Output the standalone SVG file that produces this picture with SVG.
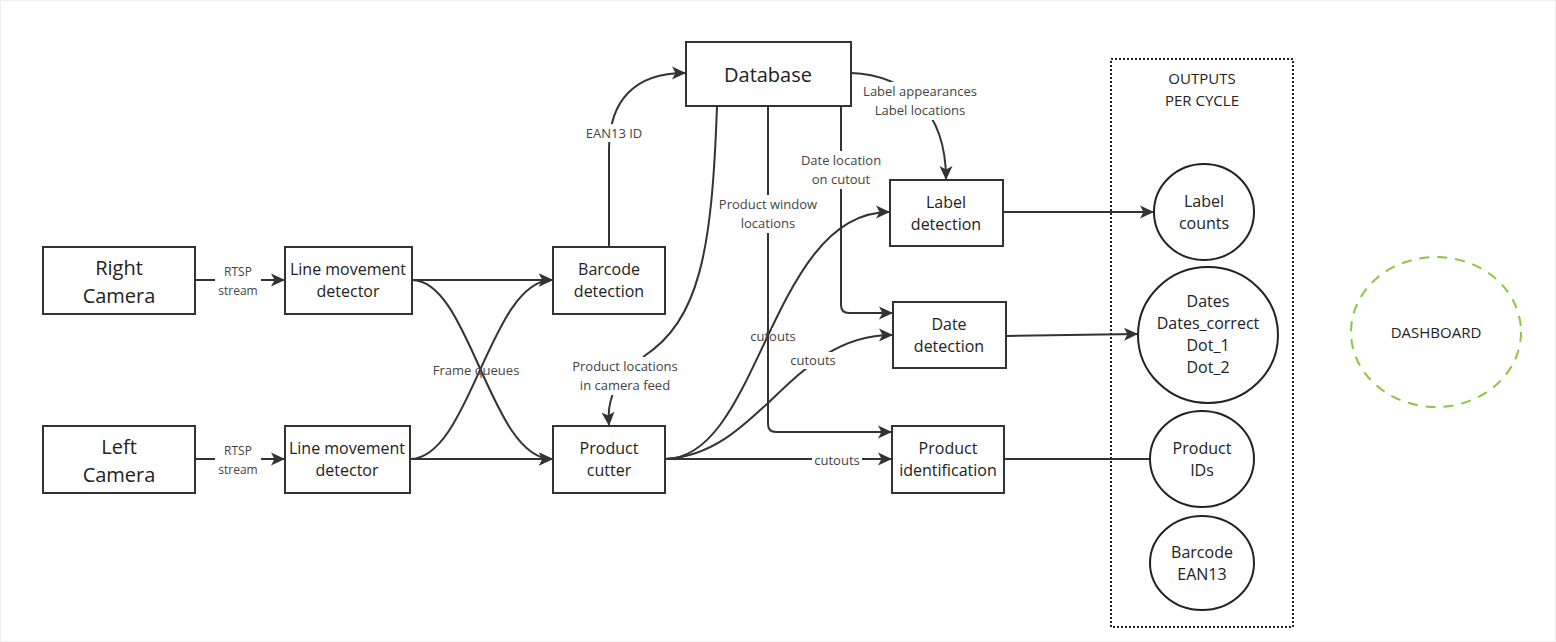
<svg xmlns="http://www.w3.org/2000/svg" width="1556" height="642" viewBox="0 0 1556 642">
<defs>
<style>
.box{fill:#fff;stroke:#333;stroke-width:2}
.circ{fill:#fff;stroke:#222;stroke-width:2}
.t{font-family:"Open Sans","Noto Sans",sans-serif;fill:#222;text-anchor:middle;dominant-baseline:central}
.n16{font-size:16px}
.n20{font-size:20px}
.e{font-family:"Open Sans","Noto Sans",sans-serif;fill:#444;text-anchor:middle;dominant-baseline:central;font-size:13px}
.e12{font-size:12px}
.ln{fill:none;stroke:#333;stroke-width:2}
.lbg{fill:#fff}
</style>
<marker id="ah" viewBox="0 0 14 14" refX="13" refY="7" markerWidth="14" markerHeight="14" markerUnits="userSpaceOnUse" orient="auto">
<path d="M0,0.5 L14,7 L0,13.5 L3.5,7 z" fill="#333"/>
</marker>
</defs>
<rect width="1556" height="642" fill="#fff"/>
<rect x="0.5" y="0.5" width="1555" height="641" fill="none" stroke="#eee" stroke-width="1"/>

<g id="connectors">
<path class="ln" d="M195,280 H284" marker-end="url(#ah)"/>
<path class="ln" d="M195,459 H284" marker-end="url(#ah)"/>
<path class="ln" d="M412,280 H552" marker-end="url(#ah)"/>
<path class="ln" d="M410,459 H552" marker-end="url(#ah)"/>
<path class="ln" d="M412,280 C470,280 490,459 552,459" marker-end="url(#ah)"/>
<path class="ln" d="M410,459 C470,459 490,280 552,280" marker-end="url(#ah)"/>
<path class="ln" d="M609,247 L609,150 C609,100 635,73 685,73" marker-end="url(#ah)"/>
<path class="ln" d="M717,106 C712,250 700,320 643,357"/>
<path class="ln" d="M613,393 C609,405 608,412 609,425" marker-end="url(#ah)"/>
<path class="ln" d="M768,106 V424 Q768,432 776,432 H891" marker-end="url(#ah)"/>
<path class="ln" d="M841,106 V305 Q841,313 849,313 H892" marker-end="url(#ah)"/>
<path class="ln" d="M851,73 C905,75 946,110 946,179" marker-end="url(#ah)"/>
<path class="ln" d="M665,459 C760,459 770,212 889,212" marker-end="url(#ah)"/>
<path class="ln" d="M665,459 C760,455 790,335 892,335" marker-end="url(#ah)"/>
<path class="ln" d="M665,459 H891" marker-end="url(#ah)"/>
<path class="ln" d="M1003,212 H1153" marker-end="url(#ah)"/>
<path class="ln" d="M1006,336 L1137,334" marker-end="url(#ah)"/>
<path class="ln" d="M1004,459 H1150"/>

<rect class="lbg" x="215" y="262" width="46" height="36"/>
<text class="e e12" x="238" y="271">RTSP</text>
<text class="e e12" x="238" y="290">stream</text>
<rect class="lbg" x="215" y="441" width="46" height="36"/>
<text class="e e12" x="238" y="450">RTSP</text>
<text class="e e12" x="238" y="469">stream</text>
<text class="e" x="476" y="370">Frame queues</text>
<rect class="lbg" x="583" y="124" width="62" height="18"/>
<text class="e" x="614" y="133">EAN13 ID</text>
<rect class="lbg" x="567" y="357" width="116" height="38"/>
<text class="e" x="625" y="366">Product locations</text>
<text class="e" x="625" y="385">in camera feed</text>
<rect class="lbg" x="716" y="195" width="106" height="38"/>
<text class="e" x="768" y="204">Product window</text>
<text class="e" x="768" y="223">locations</text>
<rect class="lbg" x="798" y="151" width="88" height="38"/>
<text class="e" x="841" y="160">Date location</text>
<text class="e" x="841" y="179">on cutout</text>
<rect class="lbg" x="860" y="82" width="120" height="38"/>
<text class="e" x="920" y="91">Label appearances</text>
<text class="e" x="920" y="110">Label locations</text>
<rect class="lbg" x="772" y="328" width="22" height="17"/>
<text class="e" x="773" y="336">cutouts</text>
<rect class="lbg" x="789" y="352" width="50" height="17"/>
<text class="e" x="813" y="360">cutouts</text>
<rect class="lbg" x="812" y="451" width="50" height="17"/>
<text class="e" x="837" y="460">cutouts</text>
</g>

<g id="right-camera">
<rect class="box" x="43" y="247" width="152" height="67"/>
<text class="t n20" x="119" y="267">Right</text>
<text class="t n20" x="119" y="295">Camera</text>
</g>
<g id="left-camera">
<rect class="box" x="43" y="426" width="152" height="67"/>
<text class="t n20" x="119" y="446">Left</text>
<text class="t n20" x="119" y="474">Camera</text>
</g>
<g id="lmd-right">
<rect class="box" x="285" y="247" width="127" height="67"/>
<text class="t n16" x="348" y="269">Line movement</text>
<text class="t n16" x="348" y="291">detector</text>
</g>
<g id="lmd-left">
<rect class="box" x="285" y="426" width="125" height="67"/>
<text class="t n16" x="347" y="448">Line movement</text>
<text class="t n16" x="347" y="470">detector</text>
</g>
<g id="barcode-detection">
<rect class="box" x="553" y="247" width="112" height="67"/>
<text class="t n16" x="609" y="269">Barcode</text>
<text class="t n16" x="609" y="291">detection</text>
</g>
<g id="product-cutter">
<rect class="box" x="553" y="426" width="112" height="67"/>
<text class="t n16" x="609" y="448">Product</text>
<text class="t n16" x="609" y="470">cutter</text>
</g>
<g id="database">
<rect class="box" x="686" y="42" width="165" height="64"/>
<text class="t n20" x="768" y="74">Database</text>
</g>
<g id="label-detection">
<rect class="box" x="890" y="180" width="113" height="66"/>
<text class="t n16" x="946" y="202">Label</text>
<text class="t n16" x="946" y="224">detection</text>
</g>
<g id="date-detection">
<rect class="box" x="893" y="302" width="113" height="66"/>
<text class="t n16" x="949" y="324">Date</text>
<text class="t n16" x="949" y="346">detection</text>
</g>
<g id="product-identification">
<rect class="box" x="892" y="426" width="112" height="67"/>
<text class="t n16" x="948" y="448">Product</text>
<text class="t n16" x="948" y="470">identification</text>
</g>

<g id="outputs">
<rect x="1111" y="59" width="182" height="568" fill="none" stroke="#222" stroke-width="2" stroke-dasharray="2,2"/>
<text class="t" style="font-size:15px" x="1202" y="78">OUTPUTS</text>
<text class="t" style="font-size:15px" x="1202" y="100">PER CYCLE</text>
</g>
<g id="label-counts">
<ellipse class="circ" cx="1204" cy="212" rx="50" ry="48"/>
<text class="t n16" x="1204" y="201">Label</text>
<text class="t n16" x="1204" y="223">counts</text>
</g>
<g id="dates">
<ellipse class="circ" cx="1208" cy="335" rx="70" ry="68"/>
<text class="t n16" x="1208" y="301">Dates</text>
<text class="t n16" x="1208" y="323">Dates_correct</text>
<text class="t n16" x="1208" y="345">Dot_1</text>
<text class="t n16" x="1208" y="367">Dot_2</text>
</g>
<g id="product-ids">
<ellipse class="circ" cx="1202" cy="459" rx="52" ry="48"/>
<text class="t n16" x="1202" y="448">Product</text>
<text class="t n16" x="1202" y="470">IDs</text>
</g>
<g id="barcode-ean13">
<ellipse class="circ" cx="1202" cy="563" rx="52" ry="47"/>
<text class="t n16" x="1202" y="552">Barcode</text>
<text class="t n16" x="1202" y="574">EAN13</text>
</g>
<g id="dashboard">
<ellipse cx="1436" cy="332" rx="85" ry="75" fill="none" stroke="#8cc63f" stroke-width="2" stroke-dasharray="10,8"/>
<text class="t" style="font-size:15px" x="1436" y="332">DASHBOARD</text>
</g>
</svg>
